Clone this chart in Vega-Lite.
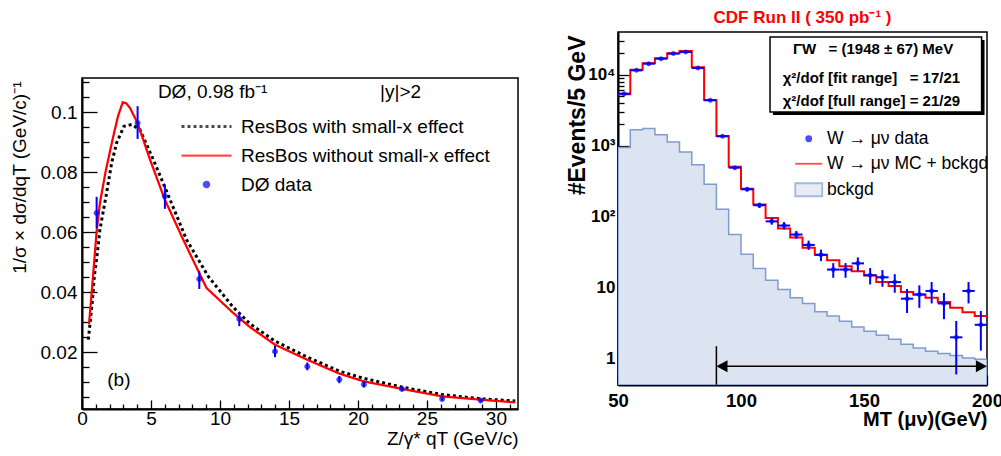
{
  "$schema": "https://vega.github.io/schema/vega-lite/v6.json",
  "background": "white",
  "padding": {"left": 9, "top": 8, "right": 0, "bottom": 0},
  "spacing": 46,
  "resolve": {
    "scale": {"fill": "independent", "stroke": "independent", "shape": "independent", "strokeDash": "independent", "strokeWidth": "independent", "color": "independent"},
    "legend": {"fill": "independent", "stroke": "independent", "shape": "independent", "strokeDash": "independent", "strokeWidth": "independent", "color": "independent"}
  },
  "config": {
    "font": "Liberation Sans",
    "view": {"stroke": "black", "strokeWidth": 1.5},
    "axis": {"grid": false, "domainColor": "black", "domainWidth": 2, "tickColor": "black", "tickWidth": 1.3, "labelColor": "black", "titleColor": "black", "labelFlush": false, "labelOverlap": false, "zindex": 1, "labelFont": "Liberation Sans", "titleFont": "Liberation Sans"},
    "legend": {"symbolFillColor": "transparent", "symbolStrokeColor": "black", "padding": 0, "symbolSize": 100, "labelFont": "Liberation Sans", "labelColor": "black"}
  },
  "hconcat": [
    {
      "spacing": 44,
      "vconcat": [
        {"width": 436, "height": 1, "view": {"stroke": null}, "data": {"values": [{}]}, "mark": {"type": "text", "fontSize": 1}, "encoding": {"text": {"value": " "}}},
        {
          "width": 436, "height": 331,
          "resolve": {"axis": {"x": "independent", "y": "independent"}},
          "layer": [
            {
              "data": {"values": [
                {"series": "ResBos with small-x effect", "q": 0.46, "y": 0.0242},
                {"series": "ResBos with small-x effect", "q": 0.75, "y": 0.037},
                {"series": "ResBos with small-x effect", "q": 0.89, "y": 0.0453},
                {"series": "ResBos with small-x effect", "q": 1.06, "y": 0.051},
                {"series": "ResBos with small-x effect", "q": 1.3, "y": 0.0609},
                {"series": "ResBos with small-x effect", "q": 1.74, "y": 0.072},
                {"series": "ResBos with small-x effect", "q": 2.15, "y": 0.0831},
                {"series": "ResBos with small-x effect", "q": 2.51, "y": 0.0898},
                {"series": "ResBos with small-x effect", "q": 3.04, "y": 0.0953},
                {"series": "ResBos with small-x effect", "q": 3.6, "y": 0.0959},
                {"series": "ResBos with small-x effect", "q": 4.2, "y": 0.0942},
                {"series": "ResBos with small-x effect", "q": 5.17, "y": 0.0842},
                {"series": "ResBos with small-x effect", "q": 6.38, "y": 0.0709},
                {"series": "ResBos with small-x effect", "q": 7.58, "y": 0.0575},
                {"series": "ResBos with small-x effect", "q": 9.15, "y": 0.0453},
                {"series": "ResBos with small-x effect", "q": 10.96, "y": 0.035},
                {"series": "ResBos with small-x effect", "q": 12.17, "y": 0.0295},
                {"series": "ResBos with small-x effect", "q": 14.0, "y": 0.0237},
                {"series": "ResBos with small-x effect", "q": 16.33, "y": 0.0184},
                {"series": "ResBos with small-x effect", "q": 18.65, "y": 0.0137},
                {"series": "ResBos with small-x effect", "q": 20.43, "y": 0.0113},
                {"series": "ResBos with small-x effect", "q": 23.19, "y": 0.0084},
                {"series": "ResBos with small-x effect", "q": 26.1, "y": 0.0059},
                {"series": "ResBos with small-x effect", "q": 28.9, "y": 0.0045},
                {"series": "ResBos with small-x effect", "q": 31.4, "y": 0.0038},
                {"series": "ResBos without small-x effect", "q": 0.51, "y": 0.0294},
                {"series": "ResBos without small-x effect", "q": 0.7, "y": 0.0398},
                {"series": "ResBos without small-x effect", "q": 0.89, "y": 0.0505},
                {"series": "ResBos without small-x effect", "q": 1.06, "y": 0.0603},
                {"series": "ResBos without small-x effect", "q": 1.3, "y": 0.0698},
                {"series": "ResBos without small-x effect", "q": 1.74, "y": 0.0809},
                {"series": "ResBos without small-x effect", "q": 2.27, "y": 0.092},
                {"series": "ResBos without small-x effect", "q": 2.6, "y": 0.0985},
                {"series": "ResBos without small-x effect", "q": 2.95, "y": 0.1033},
                {"series": "ResBos without small-x effect", "q": 3.2, "y": 0.103},
                {"series": "ResBos without small-x effect", "q": 3.48, "y": 0.1014},
                {"series": "ResBos without small-x effect", "q": 4.03, "y": 0.0964},
                {"series": "ResBos without small-x effect", "q": 4.5, "y": 0.09},
                {"series": "ResBos without small-x effect", "q": 4.93, "y": 0.0842},
                {"series": "ResBos without small-x effect", "q": 6.0, "y": 0.0709},
                {"series": "ResBos without small-x effect", "q": 7.34, "y": 0.0575},
                {"series": "ResBos without small-x effect", "q": 8.5, "y": 0.0464},
                {"series": "ResBos without small-x effect", "q": 9.03, "y": 0.0414},
                {"series": "ResBos without small-x effect", "q": 10.96, "y": 0.0331},
                {"series": "ResBos without small-x effect", "q": 12.17, "y": 0.0284},
                {"series": "ResBos without small-x effect", "q": 14.0, "y": 0.0225},
                {"series": "ResBos without small-x effect", "q": 16.33, "y": 0.0175},
                {"series": "ResBos without small-x effect", "q": 18.65, "y": 0.0129},
                {"series": "ResBos without small-x effect", "q": 20.43, "y": 0.0103},
                {"series": "ResBos without small-x effect", "q": 23.19, "y": 0.0078},
                {"series": "ResBos without small-x effect", "q": 26.1, "y": 0.0053},
                {"series": "ResBos without small-x effect", "q": 28.9, "y": 0.0042},
                {"series": "ResBos without small-x effect", "q": 31.4, "y": 0.0033}
              ]},
              "mark": {"type": "line", "clip": true},
              "encoding": {
                "x": {"field": "q", "type": "quantitative", "scale": {"domain": [0, 31.6], "nice": false, "zero": false},
                  "axis": {"orient": "bottom", "values": [0, 5, 10, 15, 20, 25, 30], "labelOverlap": false,
                    "tickSize": -9, "labelPadding": 9.5, "labelFontSize": 19,
                    "title": "Z/γ* qT (GeV/c)", "titleFontSize": 19, "titleFontWeight": "normal",
                    "titleX": 436, "titleY": 29, "titleAlign": "right", "titleBaseline": "middle"}},
                "y": {"field": "y", "type": "quantitative", "scale": {"domain": [0.0011, 0.1114], "nice": false, "zero": false},
                  "axis": {"orient": "left", "values": [0.02, 0.04, 0.06, 0.08, 0.1], "format": "~g", "labelOverlap": false,
                    "tickSize": -15, "labelPadding": 20, "labelFontSize": 19,
                    "title": "1/σ × dσ/dqT (GeV/c)⁻¹", "titleFontSize": 19, "titleFontWeight": "normal",
                    "titleX": -63, "titleY": 3, "titleAlign": "right", "titleBaseline": "middle", "titleAngle": 270}},
                "stroke": {"field": "series", "type": "nominal",
                  "scale": {"domain": ["ResBos with small-x effect", "ResBos without small-x effect", "DØ data"], "range": ["#000000", "#ff0000", "#0000ff"]},
                  "legend": {"title": null, "orient": "none", "legendX": 115, "legendY": 85, "labelFontSize": 19, "labelOffset": 25, "rowPadding": 9, "labelLimit": 400, "symbolStrokeWidth": 2.5}},
                "strokeDash": {"field": "series", "type": "nominal",
                  "scale": {"domain": ["ResBos with small-x effect", "ResBos without small-x effect", "DØ data"], "range": [[3, 3], [1, 0], [1, 0]]},
                  "legend": {"title": null, "orient": "none", "legendX": 115, "legendY": 85, "labelFontSize": 19, "labelOffset": 25, "rowPadding": 9, "labelLimit": 400, "symbolStrokeWidth": 2.5}},
                "strokeWidth": {"field": "series", "type": "nominal",
                  "scale": {"type": "point", "domain": ["ResBos with small-x effect", "ResBos without small-x effect", "DØ data"], "range": [3, 1.5]},
                  "legend": null}
              }
            },
            {
              "data": {"values": [
                {"q": 1.06, "y": 0.0664, "lo": 0.0614, "hi": 0.0718},
                {"q": 4.03, "y": 0.0964, "lo": 0.0911, "hi": 0.102},
                {"q": 6.01, "y": 0.072, "lo": 0.0678, "hi": 0.0759},
                {"q": 8.5, "y": 0.0444, "lo": 0.0411, "hi": 0.047},
                {"q": 11.4, "y": 0.0311, "lo": 0.0287, "hi": 0.0333},
                {"q": 13.99, "y": 0.0203, "lo": 0.0184, "hi": 0.0222},
                {"q": 16.33, "y": 0.0153, "lo": 0.014, "hi": 0.0166},
                {"q": 18.65, "y": 0.0109, "lo": 0.0097, "hi": 0.0121},
                {"q": 20.43, "y": 0.0093, "lo": 0.0083, "hi": 0.0103},
                {"q": 23.19, "y": 0.0078, "lo": 0.0071, "hi": 0.0085},
                {"q": 26.1, "y": 0.0044, "lo": 0.0039, "hi": 0.0049},
                {"q": 28.9, "y": 0.0039, "lo": 0.0034, "hi": 0.0044}
              ]},
              "layer": [
                {
                  "mark": {"type": "rule", "color": "#0000ff", "strokeWidth": 2},
                  "encoding": {
                    "x": {"field": "q", "type": "quantitative", "scale": {"domain": [0, 31.6], "nice": false, "zero": false}, "axis": null},
                    "y": {"field": "lo", "type": "quantitative", "scale": {"domain": [0.0011, 0.1114], "nice": false, "zero": false}, "axis": null},
                    "y2": {"field": "hi"}
                  }
                },
                {
                  "mark": {"type": "point", "filled": true, "size": 100},
                  "encoding": {
                    "x": {"field": "q", "type": "quantitative", "scale": {"domain": [0, 31.6], "nice": false, "zero": false}, "axis": null},
                    "y": {"field": "y", "type": "quantitative", "scale": {"domain": [0.0011, 0.1114], "nice": false, "zero": false}, "axis": null},
                    "fill": {"datum": "DØ data",
                      "scale": {"domain": ["ResBos with small-x effect", "ResBos without small-x effect", "DØ data"], "range": ["transparent", "transparent", "#0000ff"]},
                      "legend": {"title": null, "orient": "none", "legendX": 115, "legendY": 85, "labelFontSize": 19, "labelOffset": 25, "rowPadding": 9, "labelLimit": 400, "symbolStrokeWidth": 2.5}},
                    "shape": {"datum": "DØ data",
                      "scale": {"domain": ["ResBos with small-x effect", "ResBos without small-x effect", "DØ data"], "range": ["M-5,0H5", "M-5,0H5", "M0.6,0A0.6,0.6,0,1,1,-0.6,0A0.6,0.6,0,1,1,0.6,0Z"]},
                      "legend": {"title": null, "orient": "none", "legendX": 115, "legendY": 85, "labelFontSize": 19, "labelOffset": 25, "rowPadding": 9, "labelLimit": 400, "symbolStrokeWidth": 2.5}}
                  }
                }
              ]
            },
            {
              "data": {"values": [
                {"q": 5.5, "y": 0.1068, "label": "DØ, 0.98 fb⁻¹"},
                {"q": 21.6, "y": 0.1068, "label": "|y|>2"},
                {"q": 1.83, "y": 0.0106, "label": "(b)"}
              ]},
              "mark": {"type": "text", "align": "left", "baseline": "middle", "fontSize": 19, "font": "Liberation Sans", "color": "black"},
              "encoding": {
                "x": {"field": "q", "type": "quantitative", "scale": {"domain": [0, 31.6], "nice": false, "zero": false},
                  "axis": {"orient": "bottom", "values": [1,2,3,4,6,7,8,9,11,12,13,14,16,17,18,19,21,22,23,24,26,27,28,29,31], "labels": false, "domain": false, "title": null, "tickSize": -5}},
                "y": {"field": "y", "type": "quantitative", "scale": {"domain": [0.0011, 0.1114], "nice": false, "zero": false},
                  "axis": {"orient": "left", "values": [0.005,0.01,0.015,0.025,0.03,0.035,0.045,0.05,0.055,0.065,0.07,0.075,0.085,0.09,0.095,0.105,0.11], "labels": false, "domain": false, "title": null, "tickSize": -7}},
                "text": {"field": "label"}
              }
            }
          ]
        }
      ]
    },
    {
      "width": 369, "height": 353,
      "title": {"text": "CDF Run II ( 350 pb⁻¹ )", "color": "#ff0000", "fontSize": 17, "fontWeight": "bold", "font": "Liberation Sans", "anchor": "middle", "frame": "group", "offset": 5},
      "resolve": {"axis": {"x": "independent", "y": "independent"}},
      "data": {"values": [
        {"c": 52.5, "lo": 50, "hi": 55, "data": 5400, "dlo": 5327, "dhi": 5473, "mc": 5300, "bg": 940},
        {"c": 57.5, "lo": 55, "hi": 60, "data": 11500, "dlo": 11393, "dhi": 11607, "mc": 11700, "bg": 1680},
        {"c": 62.5, "lo": 60, "hi": 65, "data": 14300, "dlo": 14180, "dhi": 14420, "mc": 14500, "bg": 1740},
        {"c": 67.5, "lo": 65, "hi": 70, "data": 16800, "dlo": 16670, "dhi": 16930, "mc": 17000, "bg": 1430},
        {"c": 72.5, "lo": 70, "hi": 75, "data": 19800, "dlo": 19659, "dhi": 19941, "mc": 20000, "bg": 1130},
        {"c": 77.5, "lo": 75, "hi": 80, "data": 20900, "dlo": 20755, "dhi": 21045, "mc": 21500, "bg": 815},
        {"c": 82.5, "lo": 80, "hi": 85, "data": 12400, "dlo": 12289, "dhi": 12511, "mc": 12700, "bg": 540},
        {"c": 87.5, "lo": 85, "hi": 90, "data": 4360, "dlo": 4294, "dhi": 4426, "mc": 4400, "bg": 286},
        {"c": 92.5, "lo": 90, "hi": 95, "data": 1355, "dlo": 1318, "dhi": 1392, "mc": 1370, "bg": 127},
        {"c": 97.5, "lo": 95, "hi": 100, "data": 490, "dlo": 468, "dhi": 512, "mc": 505, "bg": 56},
        {"c": 102.5, "lo": 100, "hi": 105, "data": 243, "dlo": 227, "dhi": 259, "mc": 248, "bg": 29.5},
        {"c": 107.5, "lo": 105, "hi": 110, "data": 145, "dlo": 133, "dhi": 157, "mc": 148, "bg": 18.7},
        {"c": 112.5, "lo": 110, "hi": 115, "data": 86, "dlo": 77, "dhi": 95, "mc": 96, "bg": 12.7},
        {"c": 117.5, "lo": 115, "hi": 120, "data": 75, "dlo": 66, "dhi": 84, "mc": 68, "bg": 9.4},
        {"c": 122.5, "lo": 120, "hi": 125, "data": 56, "dlo": 49, "dhi": 63, "mc": 51, "bg": 7.2},
        {"c": 127.5, "lo": 125, "hi": 130, "data": 40, "dlo": 34, "dhi": 46, "mc": 36.6, "bg": 6.0},
        {"c": 132.5, "lo": 130, "hi": 135, "data": 29, "dlo": 23.6, "dhi": 34.4, "mc": 29, "bg": 4.6},
        {"c": 137.5, "lo": 135, "hi": 140, "data": 18, "dlo": 13.8, "dhi": 22.2, "mc": 24.3, "bg": 4.0},
        {"c": 142.5, "lo": 140, "hi": 145, "data": 18, "dlo": 13.8, "dhi": 22.2, "mc": 20, "bg": 3.36},
        {"c": 147.5, "lo": 145, "hi": 150, "data": 22, "dlo": 17.3, "dhi": 26.7, "mc": 17, "bg": 2.8},
        {"c": 152.5, "lo": 150, "hi": 155, "data": 15, "dlo": 11.1, "dhi": 18.9, "mc": 14.9, "bg": 2.43},
        {"c": 157.5, "lo": 155, "hi": 160, "data": 14, "dlo": 10.3, "dhi": 17.7, "mc": 12, "bg": 2.13},
        {"c": 162.5, "lo": 160, "hi": 165, "data": 12, "dlo": 8.5, "dhi": 15.5, "mc": 10.6, "bg": 1.88},
        {"c": 167.5, "lo": 165, "hi": 170, "data": 7, "dlo": 4.4, "dhi": 9.6, "mc": 8.7, "bg": 1.6},
        {"c": 172.5, "lo": 170, "hi": 175, "data": 8, "dlo": 5.2, "dhi": 10.8, "mc": 8.0, "bg": 1.41},
        {"c": 177.5, "lo": 175, "hi": 180, "data": 9, "dlo": 6, "dhi": 12, "mc": 7.2, "bg": 1.27},
        {"c": 182.5, "lo": 180, "hi": 185, "data": 6, "dlo": 3.6, "dhi": 8.4, "mc": 6.3, "bg": 1.18},
        {"c": 187.5, "lo": 185, "hi": 190, "data": 2, "dlo": 0.6, "dhi": 3.4, "mc": 5.2, "bg": 1.11},
        {"c": 192.5, "lo": 190, "hi": 195, "data": 9, "dlo": 6, "dhi": 12, "mc": 4.5, "bg": 1.02},
        {"c": 197.5, "lo": 195, "hi": 200, "data": 3, "dlo": 1.3, "dhi": 4.7, "mc": 4.0, "bg": 0.98}
      ]},
      "layer": [
        {
          "transform": [{"fold": ["lo", "hi"], "as": ["side", "edge"]}],
          "mark": {"type": "area", "clip": true, "strokeWidth": 1.5},
          "encoding": {
            "x": {"field": "edge", "type": "quantitative", "scale": {"domain": [50, 200], "nice": false, "zero": false},
              "axis": {"orient": "bottom", "values": [50, 100, 150, 200], "labelOverlap": false,
                "tickSize": -10, "labelPadding": 16, "labelFontSize": 18.5, "labelFontWeight": "bold",
                "title": "MT (μν)(GeV)", "titleFontSize": 20, "titleFontWeight": "bold",
                "titleX": 369, "titleY": 34, "titleAlign": "right", "titleBaseline": "middle"}},
            "y": {"field": "bg", "type": "quantitative", "scale": {"type": "log", "domain": [0.426, 39900], "nice": false},
              "axis": {"orient": "left", "values": [1, 10, 100, 1000, 10000],
                "labelExpr": "datum.value === 10000 ? '10⁴' : datum.value === 1000 ? '10³' : datum.value === 100 ? '10²' : datum.value === 10 ? '10' : '1'", "labelOverlap": false,
                "tickSize": -11, "labelPadding": 14, "labelFontSize": 17, "labelFontWeight": "bold",
                "title": "#Events/5 GeV", "titleFontSize": 23, "titleFontWeight": "bold",
                "titleX": -41, "titleY": 3, "titleAlign": "right", "titleBaseline": "middle", "titleAngle": 270}},
            "y2": {"datum": 0.426},
            "order": [{"field": "edge", "type": "quantitative"}, {"field": "c", "type": "quantitative"}],
            "fill": {"datum": "bckgd",
              "scale": {"domain": ["W → μν data", "W → μν MC + bckgd", "bckgd"], "range": ["#0000ff", "transparent", "#dce3f1"]},
              "legend": {"title": null, "orient": "none", "legendX": 182, "legendY": 98, "labelFontSize": 17.5, "labelOffset": 9.5, "rowPadding": 6, "labelLimit": 400, "symbolStrokeWidth": 1.8}},
            "stroke": {"datum": "bckgd",
              "scale": {"domain": ["W → μν data", "W → μν MC + bckgd", "bckgd"], "range": ["#0000ff", "#ff0000", "#7e9ccf"]},
              "legend": {"title": null, "orient": "none", "legendX": 182, "legendY": 98, "labelFontSize": 17.5, "labelOffset": 9.5, "rowPadding": 6, "labelLimit": 400, "symbolStrokeWidth": 1.8}}
          }
        },
        {
          "transform": [{"fold": ["lo", "hi"], "as": ["side", "edge"]}],
          "mark": {"type": "line", "strokeWidth": 2},
          "encoding": {
            "x": {"field": "edge", "type": "quantitative", "scale": {"domain": [50, 200], "nice": false, "zero": false},
              "axis": {"orient": "bottom", "values": [60,70,80,90,110,120,130,140,160,170,180,190], "labels": false, "domain": false, "title": null, "tickSize": -6}},
            "y": {"field": "mc", "type": "quantitative", "scale": {"type": "log", "domain": [0.426, 39900], "nice": false},
              "axis": {"orient": "left", "values": [0.5,0.6,0.7,0.8,0.9,2,3,4,5,6,7,8,9,20,30,40,50,60,70,80,90,200,300,400,500,600,700,800,900,2000,3000,4000,5000,6000,7000,8000,9000,20000,30000], "labels": false, "domain": false, "title": null, "tickSize": -6}},
            "order": [{"field": "edge", "type": "quantitative"}, {"field": "c", "type": "quantitative"}],
            "stroke": {"datum": "W → μν MC + bckgd",
              "scale": {"domain": ["W → μν data", "W → μν MC + bckgd", "bckgd"], "range": ["#0000ff", "#ff0000", "#7e9ccf"]},
              "legend": {"title": null, "orient": "none", "legendX": 182, "legendY": 98, "labelFontSize": 17.5, "labelOffset": 9.5, "rowPadding": 6, "labelLimit": 400, "symbolStrokeWidth": 1.8}}
          }
        },
        {
          "mark": {"type": "rule", "color": "#0000ff", "strokeWidth": 2},
          "encoding": {
            "x": {"field": "c", "type": "quantitative", "scale": {"domain": [50, 200], "nice": false, "zero": false}, "axis": null},
            "y": {"field": "dlo", "type": "quantitative", "scale": {"type": "log", "domain": [0.426, 39900], "nice": false}, "axis": null},
            "y2": {"field": "dhi"}
          }
        },
        {
          "mark": {"type": "rule", "color": "#0000ff", "strokeWidth": 2},
          "encoding": {
            "x": {"field": "lo", "type": "quantitative", "scale": {"domain": [50, 200], "nice": false, "zero": false}, "axis": null},
            "x2": {"field": "hi"},
            "y": {"field": "data", "type": "quantitative", "scale": {"type": "log", "domain": [0.426, 39900], "nice": false}, "axis": null}
          }
        },
        {
          "mark": {"type": "point", "filled": true, "size": 100},
          "encoding": {
            "x": {"field": "c", "type": "quantitative", "scale": {"domain": [50, 200], "nice": false, "zero": false}, "axis": null},
            "y": {"field": "data", "type": "quantitative", "scale": {"type": "log", "domain": [0.426, 39900], "nice": false}, "axis": null},
            "fill": {"datum": "W → μν data",
              "scale": {"domain": ["W → μν data", "W → μν MC + bckgd", "bckgd"], "range": ["#0000ff", "transparent", "#dce3f1"]},
              "legend": {"title": null, "orient": "none", "legendX": 182, "legendY": 98, "labelFontSize": 17.5, "labelOffset": 9.5, "rowPadding": 6, "labelLimit": 400, "symbolStrokeWidth": 1.8}},
            "shape": {"datum": "W → μν data",
              "scale": {"domain": ["W → μν data", "W → μν MC + bckgd", "bckgd"], "range": ["M0.5,0A0.5,0.5,0,1,1,-0.5,0A0.5,0.5,0,1,1,0.5,0Z", "M-2.7,0H2.7", "M-2.7,-1.3H2.7V1.3H-2.7Z"]},
              "legend": {"title": null, "orient": "none", "legendX": 182, "legendY": 98, "labelFontSize": 17.5, "labelOffset": 9.5, "rowPadding": 6, "labelLimit": 400, "symbolStrokeWidth": 1.8}}
          }
        },
        {
          "data": {"values": [{"mt": 90, "n": 1.5, "n2": 0.43}]},
          "mark": {"type": "rule", "color": "black", "strokeWidth": 1.5},
          "encoding": {
            "x": {"field": "mt", "type": "quantitative", "scale": {"domain": [50, 200], "nice": false, "zero": false}, "axis": null},
            "y": {"field": "n", "type": "quantitative", "scale": {"type": "log", "domain": [0.426, 39900], "nice": false}, "axis": null},
            "y2": {"field": "n2"}
          }
        },
        {
          "data": {"values": [{"mt": 91, "mt2": 199, "n": 0.782}]},
          "mark": {"type": "rule", "color": "black", "strokeWidth": 1.5},
          "encoding": {
            "x": {"field": "mt", "type": "quantitative", "scale": {"domain": [50, 200], "nice": false, "zero": false}, "axis": null},
            "x2": {"field": "mt2"},
            "y": {"field": "n", "type": "quantitative", "scale": {"type": "log", "domain": [0.426, 39900], "nice": false}, "axis": null}
          }
        },
        {
          "data": {"values": [{"mt": 90, "n": 0.782}]},
          "mark": {"type": "point", "filled": true, "color": "black", "opacity": 1, "size": 144, "shape": "M0,0L1.85,-1L1.85,1Z"},
          "encoding": {
            "x": {"field": "mt", "type": "quantitative", "scale": {"domain": [50, 200], "nice": false, "zero": false}, "axis": null},
            "y": {"field": "n", "type": "quantitative", "scale": {"type": "log", "domain": [0.426, 39900], "nice": false}, "axis": null}
          }
        },
        {
          "data": {"values": [{"mt": 200, "n": 0.782}]},
          "mark": {"type": "point", "filled": true, "color": "black", "opacity": 1, "size": 144, "shape": "M0,0L-1.85,-1L-1.85,1Z"},
          "encoding": {
            "x": {"field": "mt", "type": "quantitative", "scale": {"domain": [50, 200], "nice": false, "zero": false}, "axis": null},
            "y": {"field": "n", "type": "quantitative", "scale": {"type": "log", "domain": [0.426, 39900], "nice": false}, "axis": null}
          }
        },
        {
          "data": {"values": [{"mt": 113.0, "mt2": 199.0, "n": 2700, "n2": 30800}]},
          "mark": {"type": "rect", "color": "black", "opacity": 1},
          "encoding": {
            "x": {"field": "mt", "type": "quantitative", "scale": {"domain": [50, 200], "nice": false, "zero": false}, "axis": null},
            "x2": {"field": "mt2"},
            "y": {"field": "n", "type": "quantitative", "scale": {"type": "log", "domain": [0.426, 39900], "nice": false}, "axis": null},
            "y2": {"field": "n2"}
          }
        },
        {
          "data": {"values": [{"mt": 111.8, "mt2": 197.8, "n": 2985, "n2": 33960}]},
          "mark": {"type": "rect", "fill": "white", "stroke": "black", "strokeWidth": 1.5, "opacity": 1},
          "encoding": {
            "x": {"field": "mt", "type": "quantitative", "scale": {"domain": [50, 200], "nice": false, "zero": false}, "axis": null},
            "x2": {"field": "mt2"},
            "y": {"field": "n", "type": "quantitative", "scale": {"type": "log", "domain": [0.426, 39900], "nice": false}, "axis": null},
            "y2": {"field": "n2"}
          }
        },
        {
          "data": {"values": [
            {"mt": 121.1, "n": 23000, "label": "ΓW\u00a0\u00a0 = (1948 ± 67) MeV"},
            {"mt": 116.95, "n": 8980, "label": "χ²/dof [fit range]\u00a0\u00a0 = 17/21"},
            {"mt": 116.95, "n": 4220, "label": "χ²/dof [full range] = 21/29"}
          ]},
          "mark": {"type": "text", "align": "left", "baseline": "middle", "fontSize": 15, "fontWeight": "bold", "font": "Liberation Sans", "color": "black"},
          "encoding": {
            "x": {"field": "mt", "type": "quantitative", "scale": {"domain": [50, 200], "nice": false, "zero": false}, "axis": null},
            "y": {"field": "n", "type": "quantitative", "scale": {"type": "log", "domain": [0.426, 39900], "nice": false}, "axis": null},
            "text": {"field": "label"}
          }
        }
      ]
    }
  ]
}
